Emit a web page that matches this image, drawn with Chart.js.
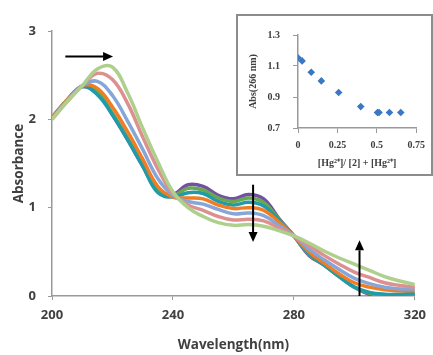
<!DOCTYPE html>
<html>
<head>
<meta charset="utf-8">
<script src="https://cdn.jsdelivr.net/npm/chart.js@4.4.0/dist/chart.umd.min.js"></script>
<style>
  html, body { margin: 0; padding: 0; background: #fff; }
  #wrap { position: relative; width: 433px; height: 355px; overflow: hidden; }
  #mainChart { position: absolute; left: 0; top: 0; }
  #inset { position: absolute; left: 236px; top: 14px; width: 193px; height: 158px;
           border: 2px solid #8c8c8c; background: #fff; }
  #insetChart { position: absolute; left: 0; top: 0; }
</style>
</head>
<body>
<div id="wrap">
  <canvas id="mainChart" width="433" height="355"></canvas>
  <div id="inset"><canvas id="insetChart" width="193" height="158"></canvas></div>
</div>
<script>
// wavelengths (nm)
const wavelengths = [200, 205, 210, 215, 220, 225, 230, 235, 240, 245, 250, 255, 260,
                     265, 270, 275, 280, 285, 290, 295, 300, 305, 310, 315, 320];

// absorbance spectra, one per titration step
const purple   = [2.02, 2.22, 2.37, 2.30, 2.05, 1.77, 1.47, 1.20, 1.15, 1.26, 1.24, 1.14, 1.10,
                  1.15, 1.10, 0.88, 0.68, 0.46, 0.35, 0.22, 0.10, 0.02, 0.00, 0.00, 0.01];
const green    = [2.02, 2.22, 2.37, 2.31, 2.07, 1.79, 1.49, 1.20, 1.14, 1.22, 1.20, 1.11, 1.07,
                  1.11, 1.06, 0.87, 0.68, 0.47, 0.35, 0.22, 0.10, 0.03, 0.01, 0.01, 0.02];
const teal     = [2.02, 2.21, 2.37, 2.28, 2.05, 1.77, 1.47, 1.17, 1.12, 1.17, 1.16, 1.07, 1.03,
                  1.06, 1.02, 0.86, 0.68, 0.48, 0.35, 0.22, 0.10, 0.04, 0.02, 0.02, 0.03];
const orange   = [2.02, 2.22, 2.38, 2.35, 2.14, 1.86, 1.55, 1.24, 1.12, 1.11, 1.10, 1.03, 0.99,
                  1.00, 0.97, 0.84, 0.68, 0.50, 0.37, 0.25, 0.15, 0.10, 0.07, 0.06, 0.06];
const blue     = [2.01, 2.21, 2.38, 2.43, 2.27, 1.98, 1.66, 1.33, 1.14, 1.07, 1.04, 0.98, 0.93,
                  0.94, 0.91, 0.80, 0.68, 0.53, 0.41, 0.30, 0.20, 0.14, 0.10, 0.08, 0.08];
const pink     = [2.00, 2.20, 2.38, 2.52, 2.45, 2.18, 1.80, 1.44, 1.16, 1.03, 0.97, 0.90, 0.86,
                  0.87, 0.85, 0.77, 0.68, 0.57, 0.46, 0.36, 0.27, 0.21, 0.15, 0.12, 0.10];
const ltGreen  = [2.00, 2.20, 2.38, 2.57, 2.59, 2.30, 1.90, 1.52, 1.18, 1.00, 0.90, 0.83, 0.80,
                  0.81, 0.79, 0.74, 0.68, 0.60, 0.51, 0.43, 0.36, 0.29, 0.22, 0.17, 0.13];

const xTicks = [200, 240, 280, 320];
const yTicks = [0, 1, 2, 3];

// inset: Abs(266 nm) vs mole fraction
const moleFraction = [0, 0.026, 0.084, 0.148, 0.258, 0.398, 0.504, 0.514, 0.58, 0.652];
const abs266       = [1.153, 1.133, 1.06, 1.004, 0.929, 0.838, 0.80, 0.80, 0.80, 0.80];
const insetXTicks = [0, 0.25, 0.5, 0.75];
const insetYTicks = [0.7, 0.9, 1.1, 1.3];

const series = [
  { data: purple,  color: '#7250a3' },
  { data: green,   color: '#6aa84f' },
  { data: teal,    color: '#1f9ba9' },
  { data: orange,  color: '#f07c24' },
  { data: blue,    color: '#86a6d8' },
  { data: pink,    color: '#dd9090' },
  { data: ltGreen, color: '#aed08c' }
];

const toPoints = arr => arr.map((v, i) => ({ x: wavelengths[i], y: v }));

// black arrows drawn on top of the spectra
const arrowPlugin = {
  id: 'arrows',
  afterDatasetsDraw(chart) {
    const { ctx, scales: { x, y } } = chart;
    const arrows = [
      [204.4, 2.71, 220.2, 2.71],
      [266.5, 1.26, 266.5, 0.61],
      [301.7, 0.0, 301.7, 0.63]
    ];
    ctx.save();
    ctx.strokeStyle = '#000';
    ctx.fillStyle = '#000';
    ctx.lineWidth = 2;
    arrows.forEach(a => {
      const x1 = x.getPixelForValue(a[0]), y1 = y.getPixelForValue(a[1]);
      const x2 = x.getPixelForValue(a[2]), y2 = y.getPixelForValue(a[3]);
      const ang = Math.atan2(y2 - y1, x2 - x1);
      const hl = 10, hw = 4.5;
      const bx = x2 - hl * Math.cos(ang), by = y2 - hl * Math.sin(ang);
      ctx.beginPath();
      ctx.moveTo(x1, y1);
      ctx.lineTo(bx, by);
      ctx.stroke();
      ctx.beginPath();
      ctx.moveTo(x2, y2);
      ctx.lineTo(bx + hw * Math.sin(ang), by - hw * Math.cos(ang));
      ctx.lineTo(bx - hw * Math.sin(ang), by + hw * Math.cos(ang));
      ctx.closePath();
      ctx.fill();
    });
    ctx.restore();
  }
};

new Chart(document.getElementById('mainChart').getContext('2d'), {
  type: 'line',
  data: {
    datasets: series.map((s, i) => ({
      data: toPoints(s.data),
      borderColor: s.color,
      borderWidth: 3.5,
      pointRadius: 0,
      tension: 0.4,
      order: series.length - i,   // last series drawn on top
      fill: false
    }))
  },
  options: {
    responsive: false,
    animation: false,
    layout: { padding: { top: 31, right: 13, left: 0, bottom: 0 } },
    plugins: { legend: { display: false }, tooltip: { enabled: false } },
    scales: {
      x: {
        type: 'linear',
        min: 200, max: 320,
        afterBuildTicks: s => { s.ticks = xTicks.map(v => ({ value: v })); },
        afterFit: s => { s.height = 59; },
        grid: { drawOnChartArea: false, tickLength: 4, color: '#999' },
        border: { color: '#999', width: 1.5 },
        ticks: { padding: 7, color: '#404040', font: { family: 'Open Sans', size: 13, weight: 'bold' } },
        title: { display: true, text: 'Wavelength(nm)', color: '#404040', padding: { bottom: 2 },
                 font: { family: 'Open Sans', size: 13.5, weight: 'bold' } }
      },
      y: {
        min: 0, max: 3,
        afterBuildTicks: s => { s.ticks = yTicks.map(v => ({ value: v })); },
        afterFit: s => { s.width = 52; },
        grid: { drawOnChartArea: false, tickLength: 4, color: '#999' },
        border: { color: '#999', width: 1.5 },
        ticks: { padding: 12, color: '#404040', font: { family: 'Open Sans', size: 13, weight: 'bold' } },
        title: { display: true, text: 'Absorbance', color: '#404040', padding: { top: 11 },
                 font: { family: 'Open Sans', size: 13.5, weight: 'bold' } }
      }
    }
  },
  plugins: [arrowPlugin]
});

const serif = { family: 'Liberation Serif', size: 10, weight: 'bold' };

new Chart(document.getElementById('insetChart').getContext('2d'), {
  type: 'scatter',
  data: {
    datasets: [{
      data: moleFraction.map((v, i) => ({ x: v, y: abs266[i] })),
      pointStyle: 'rectRot',
      pointRadius: 3.8,
      backgroundColor: '#3b78c4',
      borderColor: '#3b78c4',
      borderWidth: 0
    }]
  },
  options: {
    responsive: false,
    animation: false,
    layout: { padding: { top: 11, right: 11, left: 0, bottom: 0 } },
    plugins: { legend: { display: false }, tooltip: { enabled: false } },
    scales: {
      x: {
        type: 'linear',
        min: 0, max: 0.75,
        afterBuildTicks: s => { s.ticks = insetXTicks.map(v => ({ value: v })); },
        afterFit: s => { s.height = 46; },
        grid: { drawOnChartArea: false, tickLength: 5, color: '#999' },
        border: { color: '#999', width: 1.5 },
        ticks: { padding: 6, color: '#404040', font: serif, callback: v => String(v) },
        title: { display: true, text: '[Hg\u00B2\u207A]/ [2] + [Hg\u00B2\u207A]', color: '#404040',
                 padding: { bottom: 5 }, font: serif }
      },
      y: {
        min: 0.7, max: 1.3,
        afterBuildTicks: s => { s.ticks = insetYTicks.map(v => ({ value: v })); },
        afterFit: s => { s.width = 60; },
        grid: { drawOnChartArea: false, tickLength: 5, color: '#999' },
        border: { color: '#999', width: 1.5 },
        ticks: { padding: 13, color: '#404040', font: serif, callback: v => v.toFixed(1) },
        title: { display: true, text: 'Abs(266 nm)', color: '#404040', padding: { top: 9 }, font: serif }
      }
    }
  }
});
</script>
</body>
</html>
